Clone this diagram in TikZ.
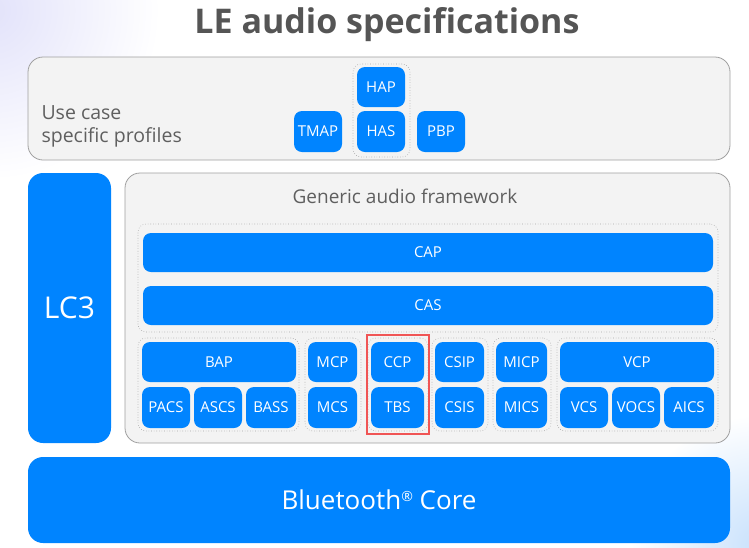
\documentclass[tikz,border=0pt]{standalone}
\usepackage{fontspec}
\setmainfont{Open Sans}
\usetikzlibrary{positioning}
\definecolor{bblue}{RGB}{0,132,255}
\definecolor{panel}{RGB}{243,243,243}
\definecolor{panelline}{RGB}{160,160,160}
\definecolor{dotline}{RGB}{165,165,165}
\definecolor{titlegray}{RGB}{85,85,85}
\definecolor{labelgray}{RGB}{95,95,95}
\definecolor{hired}{RGB}{240,85,85}
\tikzset{
  bluebox/.style={fill=bblue, text=white, rounded corners=8pt, inner sep=0pt, font=\fontsize{15}{17}\selectfont},
  bigblue/.style={fill=bblue, text=white, rounded corners=15pt, inner sep=0pt},
  panelbox/.style={fill=panel, draw=panelline, line width=0.8pt, rounded corners=15pt, inner sep=0pt},
  grp/.style={draw=dotline, dotted, line width=0.6pt, rounded corners=8pt, inner sep=0pt},
  redbox/.style={draw=hired, line width=2.4pt, inner sep=0pt},
}
% name, x1, y1, x2, y2, text, style
\newcommand\bx[7]{\node[#7, minimum width={#4pt-#2pt}, minimum height={#5pt-#3pt}] (#1) at ({(#2+#4)/2},{(#3+#5)/2}) {#6};}
\begin{document}
\begin{tikzpicture}[x=1pt,y=-1pt]
\useasboundingbox (0,0) rectangle (749,547);
\fill[white] (0,0) rectangle (749,547);
\begin{scope}
\clip (0,0) rectangle (749,547);
\shade[inner color={rgb,255:red,226;green,226;blue,250}, outer color=white] (-10,10) circle (170);
\shade[inner color={rgb,255:red,200;green,225;blue,252}, outer color=white] (760,545) circle (130);
\end{scope}
% title
\node[text=titlegray, anchor=base, inner sep=0pt, font=\fontsize{34}{40}\bfseries\selectfont] (title) at (387,33) {LE audio specifications};
% use case panel
\bx{usecase}{28}{57}{730}{160}{}{panelbox}
\node[text=labelgray, align=left, anchor=west, font=\fontsize{19.5}{23}\selectfont] (uclabel) at (38,126) {Use case\\specific profiles};
\bx{hgrp}{353}{64}{410}{157}{}{grp}
\bx{hap}{357}{67}{405}{107}{HAP}{bluebox}
\bx{has}{357}{111}{405}{152}{HAS}{bluebox}
\bx{tmap}{294}{111}{342}{152}{TMAP}{bluebox}
\bx{pbp}{417}{111}{465}{152}{PBP}{bluebox}
% LC3
\bx{lc3}{28}{173}{111}{443}{LC3}{bigblue, font=\fontsize{30}{34}\selectfont}
% generic audio framework
\bx{gaf}{125}{173}{730}{443}{}{panelbox}
\node[text=labelgray, font=\fontsize{19}{22}\selectfont] (gaflabel) at (405,196) {Generic audio framework};
\bx{capgrp}{138}{224}{718}{332}{}{grp}
\bx{cap}{143}{233}{713}{272}{CAP}{bluebox}
\bx{cas}{143}{286}{713}{325}{CAS}{bluebox}
% BAP group
\bx{bapgrp}{138}{338}{299}{431}{}{grp}
\bx{bap}{142}{342}{296}{382}{BAP}{bluebox}
\bx{pacs}{142}{387}{190}{428}{PACS}{bluebox}
\bx{ascs}{194}{387}{242}{428}{ASCS}{bluebox}
\bx{bass}{246}{387}{296}{428}{BASS}{bluebox}
% MCP group
\bx{mcpgrp}{305}{338}{361}{431}{}{grp}
\bx{mcp}{308}{342}{357}{382}{MCP}{bluebox}
\bx{mcs}{308}{387}{357}{428}{MCS}{bluebox}
% CCP group
\bx{ccpgrp}{368}{338}{428}{431}{}{grp}
\bx{ccp}{371}{342}{424}{382}{CCP}{bluebox}
\bx{tbs}{371}{387}{424}{428}{TBS}{bluebox}
\bx{hl}{367}{335}{429}{434}{}{redbox}
% CSIP group
\bx{csipgrp}{432}{338}{488}{431}{}{grp}
\bx{csip}{435}{342}{484}{382}{CSIP}{bluebox}
\bx{csis}{435}{387}{484}{428}{CSIS}{bluebox}
% MICP group
\bx{micpgrp}{493}{338}{551}{431}{}{grp}
\bx{micp}{496}{342}{547}{382}{MICP}{bluebox}
\bx{mics}{496}{387}{547}{428}{MICS}{bluebox}
% VCP group
\bx{vcpgrp}{557}{338}{718}{431}{}{grp}
\bx{vcp}{560}{342}{714}{382}{VCP}{bluebox}
\bx{vcs}{560}{387}{608}{428}{VCS}{bluebox}
\bx{vocs}{612}{387}{660}{428}{VOCS}{bluebox}
\bx{aics}{664}{387}{714}{428}{AICS}{bluebox}
% Bluetooth core
\bx{core}{28}{457}{730}{543}{Bluetooth{\fontsize{14}{14}\selectfont\raisebox{1.05ex}{®}} Core}{bigblue, font=\fontsize{26}{30}\selectfont}
\end{tikzpicture}
\end{document}
